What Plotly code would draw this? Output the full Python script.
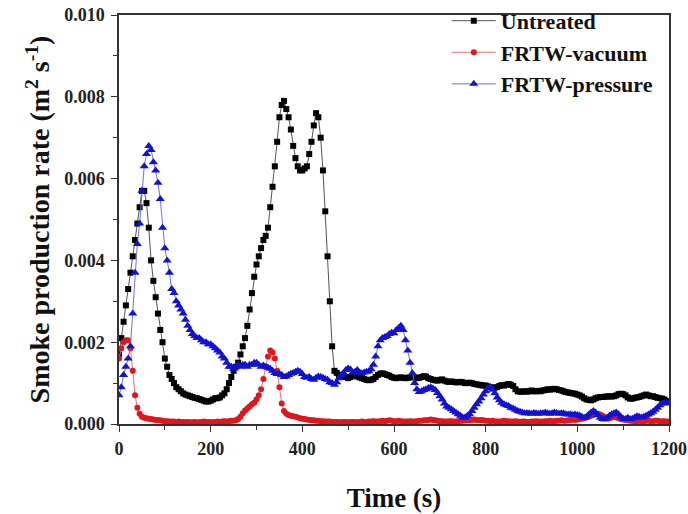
import plotly.graph_objects as go

time_s = list(range(0, 1201, 5))

untreated = [
    0.00170, 0.00210, 0.00250, 0.00290, 0.00330, 0.00370, 0.00410, 0.00450, 0.00490, 0.00530,
    0.00570, 0.00570, 0.00540, 0.00480, 0.00400, 0.00350, 0.00310, 0.00270, 0.00230, 0.00200,
    0.00160, 0.00140, 0.00120, 0.00110, 0.00100, 0.00090, 0.00085, 0.00080, 0.00075, 0.00072,
    0.00070, 0.00068, 0.00066, 0.00064, 0.00063, 0.00061, 0.00059, 0.00057, 0.00055, 0.00055,
    0.00057, 0.00060, 0.00063, 0.00063, 0.00065, 0.00070, 0.00075, 0.00085, 0.00100, 0.00115,
    0.00130, 0.00140, 0.00150, 0.00170, 0.00190, 0.00210, 0.00240, 0.00280, 0.00320, 0.00360,
    0.00390, 0.00410, 0.00430, 0.00450, 0.00460, 0.00480, 0.00530, 0.00580, 0.00630, 0.00690,
    0.00750, 0.00780, 0.00790, 0.00770, 0.00750, 0.00720, 0.00680, 0.00650, 0.00630, 0.00620,
    0.00620, 0.00625, 0.00630, 0.00660, 0.00690, 0.00730, 0.00760, 0.00750, 0.00700, 0.00620,
    0.00520, 0.00410, 0.00300, 0.00190, 0.00130, 0.00125, 0.00120, 0.00115, 0.00118, 0.00115,
    0.00112, 0.00115, 0.00118, 0.00120, 0.00116, 0.00114, 0.00112, 0.00110, 0.00108, 0.00107,
    0.00108, 0.00110, 0.00115, 0.00120, 0.00123, 0.00124, 0.00122, 0.00120, 0.00118, 0.00115,
    0.00113, 0.00112, 0.00113, 0.00114, 0.00113, 0.00112, 0.00113, 0.00114, 0.00115, 0.00114,
    0.00112, 0.00113, 0.00115, 0.00117, 0.00116, 0.00112, 0.00110, 0.00108, 0.00107, 0.00106,
    0.00108, 0.00109, 0.00106, 0.00104, 0.00103, 0.00104, 0.00103, 0.00102, 0.00102, 0.00103,
    0.00102, 0.00100, 0.00100, 0.00101, 0.00100, 0.00098, 0.00097, 0.00096, 0.00095, 0.00094,
    0.00094, 0.00092, 0.00090, 0.00089, 0.00089, 0.00090, 0.00093, 0.00095, 0.00094, 0.00096,
    0.00098, 0.00096, 0.00093, 0.00085, 0.00080, 0.00079, 0.00079, 0.00080, 0.00079, 0.00080,
    0.00082, 0.00080, 0.00080, 0.00081, 0.00080, 0.00082, 0.00083, 0.00085, 0.00084, 0.00085,
    0.00086, 0.00085, 0.00083, 0.00082, 0.00080, 0.00078, 0.00077, 0.00076, 0.00075, 0.00074,
    0.00072, 0.00070, 0.00067, 0.00063, 0.00060, 0.00059, 0.00058, 0.00060, 0.00063, 0.00065,
    0.00066, 0.00066, 0.00067, 0.00067, 0.00068, 0.00067, 0.00068, 0.00070, 0.00073, 0.00074,
    0.00073, 0.00070, 0.00065, 0.00062, 0.00062, 0.00064, 0.00065, 0.00066, 0.00068, 0.00070,
    0.00072, 0.00070, 0.00068, 0.00068, 0.00066, 0.00064, 0.00063, 0.00062, 0.00060, 0.00056,
    0.00054,
]

frtw_vacuum = [
    0.00160, 0.00185, 0.00200, 0.00205, 0.00205, 0.00185, 0.00130, 0.00070, 0.00040, 0.00025,
    0.00018, 0.00015, 0.00014, 0.00013, 0.00012, 0.00011, 0.00010, 0.00010, 0.00009, 0.00008,
    0.00007, 0.00007, 0.00006, 0.00006, 0.00006, 0.00005, 0.00006, 0.00005, 0.00005, 0.00004,
    0.00005, 0.00004, 0.00004, 0.00005, 0.00004, 0.00004, 0.00005, 0.00006, 0.00005, 0.00005,
    0.00005, 0.00004, 0.00005, 0.00006, 0.00005, 0.00006, 0.00007, 0.00006, 0.00007, 0.00008,
    0.00008, 0.00009, 0.00012, 0.00018, 0.00026, 0.00033, 0.00038, 0.00043, 0.00048, 0.00052,
    0.00060, 0.00070, 0.00085, 0.00110, 0.00140, 0.00165, 0.00180, 0.00175, 0.00160, 0.00130,
    0.00090, 0.00050, 0.00032, 0.00025, 0.00022, 0.00020, 0.00019, 0.00018, 0.00016, 0.00014,
    0.00013, 0.00012, 0.00011, 0.00010, 0.00009, 0.00009, 0.00008, 0.00008, 0.00007, 0.00007,
    0.00006, 0.00006, 0.00006, 0.00005, 0.00005, 0.00005, 0.00005, 0.00004, 0.00005, 0.00005,
    0.00004, 0.00005, 0.00005, 0.00005, 0.00004, 0.00005, 0.00006, 0.00005, 0.00005, 0.00006,
    0.00006, 0.00007, 0.00006, 0.00006, 0.00007, 0.00008, 0.00007, 0.00008, 0.00009, 0.00008,
    0.00007, 0.00007, 0.00008, 0.00007, 0.00006, 0.00006, 0.00006, 0.00007, 0.00006, 0.00006,
    0.00007, 0.00008, 0.00008, 0.00009, 0.00009, 0.00010, 0.00011, 0.00010, 0.00009, 0.00008,
    0.00007, 0.00007, 0.00006, 0.00006, 0.00007, 0.00007, 0.00006, 0.00006, 0.00007, 0.00008,
    0.00008, 0.00009, 0.00010, 0.00009, 0.00010, 0.00011, 0.00010, 0.00009, 0.00010, 0.00009,
    0.00008, 0.00008, 0.00007, 0.00008, 0.00007, 0.00006, 0.00006, 0.00007, 0.00008, 0.00007,
    0.00007, 0.00006, 0.00006, 0.00007, 0.00006, 0.00005, 0.00006, 0.00006, 0.00005, 0.00005,
    0.00006, 0.00006, 0.00007, 0.00006, 0.00006, 0.00006, 0.00007, 0.00007, 0.00008, 0.00007,
    0.00007, 0.00008, 0.00008, 0.00009, 0.00008, 0.00008, 0.00009, 0.00010, 0.00011, 0.00010,
    0.00011, 0.00012, 0.00013, 0.00014, 0.00016, 0.00018, 0.00020, 0.00022, 0.00024, 0.00025,
    0.00023, 0.00020, 0.00017, 0.00015, 0.00014, 0.00016, 0.00018, 0.00016, 0.00014, 0.00012,
    0.00011, 0.00010, 0.00009, 0.00008, 0.00008, 0.00007, 0.00007, 0.00008, 0.00007, 0.00007,
    0.00008, 0.00008, 0.00007, 0.00007, 0.00008, 0.00008, 0.00007, 0.00007, 0.00007, 0.00006,
    0.00006,
]

frtw_pressure = [
    0.00070, 0.00090, 0.00120, 0.00140, 0.00160, 0.00190, 0.00270, 0.00370, 0.00440, 0.00490,
    0.00570, 0.00630, 0.00660, 0.00680, 0.00670, 0.00640, 0.00620, 0.00590, 0.00550, 0.00480,
    0.00430, 0.00400, 0.00370, 0.00330, 0.00320, 0.00300, 0.00290, 0.00280, 0.00270, 0.00255,
    0.00240, 0.00230, 0.00220, 0.00215, 0.00210, 0.00210, 0.00205, 0.00200, 0.00200, 0.00195,
    0.00195, 0.00190, 0.00185, 0.00180, 0.00175, 0.00165, 0.00160, 0.00150, 0.00140, 0.00140,
    0.00135, 0.00140, 0.00145, 0.00140, 0.00145, 0.00145, 0.00140, 0.00145, 0.00145, 0.00150,
    0.00150, 0.00145, 0.00140, 0.00143, 0.00140, 0.00138, 0.00135, 0.00130, 0.00125, 0.00122,
    0.00123, 0.00120, 0.00115, 0.00116, 0.00120, 0.00123, 0.00125, 0.00128, 0.00130, 0.00128,
    0.00122, 0.00115, 0.00113, 0.00115, 0.00110, 0.00108, 0.00113, 0.00116, 0.00115, 0.00113,
    0.00110, 0.00108, 0.00102, 0.00100, 0.00096, 0.00102, 0.00112, 0.00120, 0.00125, 0.00132,
    0.00136, 0.00133, 0.00126, 0.00128, 0.00132, 0.00126, 0.00124, 0.00126, 0.00128, 0.00129,
    0.00134, 0.00145, 0.00165, 0.00190, 0.00205, 0.00210, 0.00213, 0.00215, 0.00220, 0.00223,
    0.00222, 0.00230, 0.00235, 0.00240, 0.00230, 0.00205, 0.00180, 0.00150, 0.00125, 0.00100,
    0.00085, 0.00078, 0.00080, 0.00083, 0.00085, 0.00088, 0.00090, 0.00087, 0.00083, 0.00076,
    0.00068, 0.00060, 0.00050, 0.00043, 0.00040, 0.00036, 0.00032, 0.00028, 0.00024, 0.00020,
    0.00016, 0.00016, 0.00020, 0.00024, 0.00032, 0.00040, 0.00048, 0.00055, 0.00063, 0.00072,
    0.00080, 0.00088, 0.00090, 0.00084, 0.00075, 0.00065, 0.00058, 0.00052, 0.00048, 0.00046,
    0.00044, 0.00040, 0.00038, 0.00035, 0.00032, 0.00030, 0.00028, 0.00026, 0.00026, 0.00026,
    0.00025, 0.00027, 0.00026, 0.00025, 0.00026, 0.00026, 0.00028, 0.00026, 0.00025, 0.00026,
    0.00028, 0.00027, 0.00025, 0.00026, 0.00026, 0.00024, 0.00023, 0.00024, 0.00022, 0.00023,
    0.00022, 0.00021, 0.00018, 0.00015, 0.00018, 0.00023, 0.00028, 0.00032, 0.00028, 0.00022,
    0.00015, 0.00012, 0.00011, 0.00015, 0.00020, 0.00024, 0.00026, 0.00028, 0.00024, 0.00018,
    0.00013, 0.00012, 0.00015, 0.00012, 0.00013, 0.00016, 0.00019, 0.00018, 0.00016, 0.00018,
    0.00020, 0.00023, 0.00026, 0.00030, 0.00035, 0.00040, 0.00046, 0.00050, 0.00052, 0.00050,
    0.00052,
]

x_ticks = [0, 200, 400, 600, 800, 1000, 1200]
y_ticks = [0.000, 0.002, 0.004, 0.006, 0.008, 0.010]

FONT = "Liberation Serif"

fig = go.Figure()
fig.add_trace(go.Scatter(
    x=time_s, y=untreated, name="<b>Untreated</b>", mode="lines+markers",
    line=dict(color="#555555", width=1),
    marker=dict(symbol="square", size=6, color="#000000", line=dict(width=0)),
))
fig.add_trace(go.Scatter(
    x=time_s, y=frtw_vacuum, name="<b>FRTW-vacuum</b>", mode="lines+markers",
    line=dict(color="#f07070", width=1),
    marker=dict(symbol="circle", size=6, color="#e3141b", line=dict(width=0)),
))
fig.add_trace(go.Scatter(
    x=time_s, y=frtw_pressure, name="<b>FRTW-pressure</b>", mode="lines+markers",
    line=dict(color="#6f6fe0", width=1),
    marker=dict(symbol="triangle-up", size=8, color="#1212d4", line=dict(width=0)),
))

axis_common = dict(
    showline=True, linecolor="#333333", linewidth=1.5, mirror=True,
    ticks="outside", ticklen=6, tickwidth=1.3, tickcolor="#333333",
    showgrid=False, zeroline=False, automargin=False, ticklabeloverflow="allow",
    tickfont=dict(family=FONT, size=18, color="#222222"),
)

fig.update_layout(
    width=688, height=514,
    margin=dict(l=119, r=19, t=15, b=90, autoexpand=False),
    paper_bgcolor="white", plot_bgcolor="white",
    font=dict(family=FONT, color="#111111"),
    showlegend=True,
    legend=dict(
        x=0.596, y=1.037, xanchor="left", yanchor="top",
        bgcolor="rgba(0,0,0,0)", borderwidth=0,
        font=dict(family=FONT, size=22, color="#111111"),
        tracegroupgap=0, itemwidth=44,
    ),
)
fig.update_xaxes(
    **axis_common,
    range=[0, 1200], tickvals=x_ticks, ticktext=[f"<b>{v}</b>" for v in x_ticks],
    ticklabelstandoff=2,
    minor=dict(ticks="outside", ticklen=4, tickcolor="#333333", dtick=100, tick0=0),
    title=dict(text="<b>Time (s)</b>", font=dict(family=FONT, size=27, color="#111111"), standoff=30),
)
fig.update_yaxes(
    **axis_common,
    range=[0, 0.010], tickvals=y_ticks, ticktext=[f"<b>{v:.3f}</b>" for v in y_ticks],
    ticklabelstandoff=3,
    minor=dict(ticks="outside", ticklen=4, tickcolor="#333333", dtick=0.001, tick0=0),
    title=dict(text="<b>Smoke production rate (m<sup>2</sup> s<sup>-1</sup>)</b>",
               font=dict(family=FONT, size=28, color="#111111"), standoff=6),
)

fig.write_html("out.html", config={"displayModeBar": False},
               post_script="document.body.style.margin='0';")
